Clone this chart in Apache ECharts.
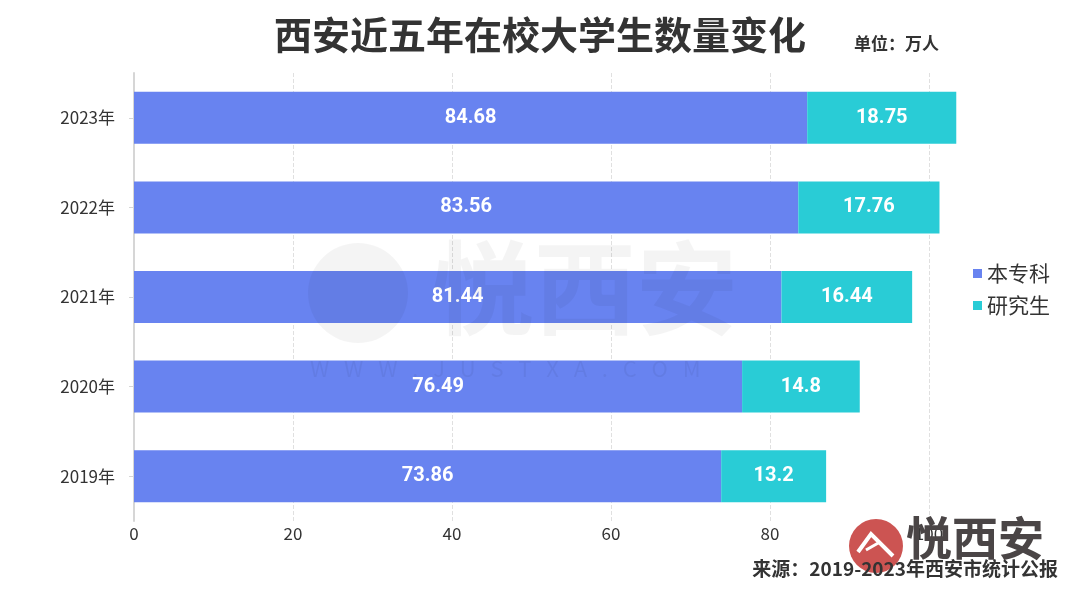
<!DOCTYPE html>
<html><head><meta charset="utf-8">
<script src="https://cdn.jsdelivr.net/npm/echarts@6/dist/echarts.min.js"></script>
<style>html,body{margin:0;padding:0;background:#fff}#c{width:1080px;height:598px}</style>
</head><body><div id="c"></div>
<script>
const categories = ['2019年','2020年','2021年','2022年','2023年'];
const undergrad = [73.86, 76.49, 81.44, 83.56, 84.68];
const graduate = [13.2, 14.8, 16.44, 17.76, 18.75];
const seriesNames = ['本专科','研究生'];
const chart = echarts.init(document.getElementById('c'));
const F = '"Noto Sans CJK SC","Noto Sans",sans-serif';
const NF = 'Roboto,"Noto Sans",sans-serif';
chart.setOption({
  backgroundColor:'#fff',
  title:{text:'西安近五年在校大学生数量变化',left:'center',top:11,
    textStyle:{fontFamily:F,fontSize:38,fontWeight:'bold',color:'#333'}},
  legend:{orient:'vertical',left:968,top:258,itemWidth:9,itemHeight:9,itemGap:11,icon:'rect',
    textStyle:{fontFamily:F,fontSize:21,color:'#333'},data:seriesNames},
  grid:{left:134,right:151,top:73,bottom:77},
  xAxis:{type:'value',min:0,max:100,interval:20,
    axisLine:{show:false},axisTick:{show:false},
    splitLine:{show:true,lineStyle:{type:'dashed',color:'#e0e0e0'}},
    axisLabel:{fontFamily:F,fontSize:17,color:'#333',margin:4}},
  yAxis:{type:'category',data:categories,
    axisLine:{show:true,lineStyle:{color:'#d6d6d6',width:2}},
    axisTick:{show:true,length:5,alignWithLabel:true,lineStyle:{color:'#d6d6d6'}},
    axisLabel:{fontFamily:F,fontSize:17,color:'#333',margin:19}},
  series:[
    {name:seriesNames[0],type:'bar',stack:'a',data:undergrad,barWidth:52,clip:false,
     itemStyle:{color:'#6883f0'},
     label:{show:true,position:'inside',color:'#fff',fontFamily:NF,fontSize:20,fontWeight:'bold'}},
    {name:seriesNames[1],type:'bar',stack:'a',data:graduate,barWidth:52,clip:false,
     itemStyle:{color:'#29ccd6'},
     label:{show:true,position:'inside',color:'#fff',fontFamily:NF,fontSize:20,fontWeight:'bold'}}
  ],
  graphic:[
    {type:'text',left:854,top:35,style:{text:'单位：万人',fontFamily:F,fontSize:17,fontWeight:'bold',fill:'#333'}},
    {type:'circle',z:100,shape:{cx:358,cy:293,r:50},style:{fill:'rgba(0,0,0,0.045)'}},
    {type:'text',z:100,left:432,top:237,style:{text:'悦西安',fontFamily:F,fontSize:102,fontWeight:'bold',fill:'rgba(0,0,0,0.045)'}},
    {type:'text',z:100,left:310,top:358,style:{text:'W   W   W   .   J   U   S   T   X   A   .   C   O   M',fontFamily:F,fontSize:22,fill:'rgba(0,0,0,0.05)'}},
    {type:'circle',z:100,shape:{cx:876,cy:546,r:27},style:{fill:'#cc5452'}},
    {type:'polyline',z:101,shape:{points:[[858,552],[871,534],[893,556]]},style:{stroke:'#fff',lineWidth:4,fill:null}},
    {type:'polyline',z:101,shape:{points:[[866,550],[880,542]]},style:{stroke:'#fff',lineWidth:3,fill:null}},
    {type:'text',z:101,left:906,top:515,style:{text:'悦西安',fontFamily:F,fontSize:46,fontWeight:'bold',fill:'#4a4546'}},
    {type:'text',z:101,right:22,top:559,style:{text:'来源：2019-2023年西安市统计公报',fontFamily:F,fontSize:19,fontWeight:'bold',fill:'#333'}}
  ]
});
</script></body></html>
